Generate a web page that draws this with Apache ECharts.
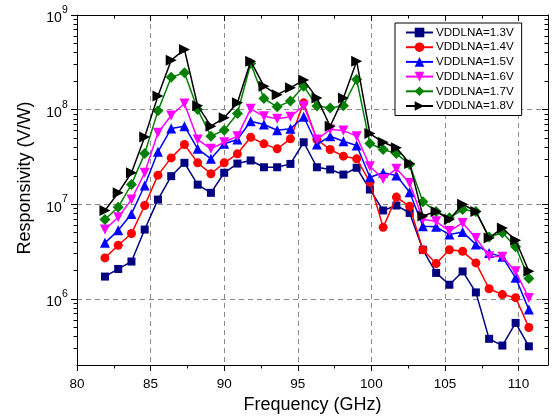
<!DOCTYPE html>
<html>
<head>
<meta charset="utf-8">
<script src="https://cdn.jsdelivr.net/npm/echarts@6/dist/echarts.min.js"></script>
<style>
html,body{margin:0;padding:0;background:#fff;}
#chart{width:555px;height:420px;}
</style>
</head>
<body>
<div id="chart"></div>
<script>
// ---- data ----
var freq = [81.9, 82.8, 83.7, 84.6, 85.5, 86.4, 87.3, 88.2, 89.1, 90.0, 90.9, 91.8, 92.7, 93.6, 94.5, 95.4, 96.3, 97.2, 98.1, 99.0, 99.9, 100.8, 101.7, 102.6, 103.5, 104.4, 105.3, 106.2, 107.1, 108.0, 108.9, 109.8, 110.7];
var v13 = [1.72e6, 2.07e6, 2.48e6, 5.4e6, 1.12e7, 1.98e7, 2.74e7, 1.61e7, 1.32e7, 2.15e7, 2.69e7, 2.9e7, 2.46e7, 2.46e7, 2.67e7, 4.52e7, 2.46e7, 2.33e7, 2.06e7, 2.43e7, 1.43e7, 8.6e6, 9.7e6, 8.1e6, 3.3e6, 1.88e6, 1.41e6, 1.95e6, 1.17e6, 3.78e5, 3.21e5, 5.57e5, 3.15e5];
var v14 = [2.71e6, 3.69e6, 4.9e6, 9.7e6, 2.03e7, 3.09e7, 4.28e7, 2.74e7, 2.1e7, 2.74e7, 3.41e7, 5.1e7, 4.35e7, 3.85e7, 4.91e7, 1.18e8, 4.83e7, 3.79e7, 3.22e7, 3.02e7, 1.71e7, 5.7e6, 1.19e7, 9.5e6, 3.3e6, 2.36e6, 3.3e6, 3.18e6, 2.4e6, 1.28e6, 1.11e6, 1.03e6, 4.98e5];
var v15 = [3.91e6, 5.3e6, 7.9e6, 1.58e7, 3.58e7, 6.3e7, 6.68e7, 3.85e7, 3.02e7, 4.35e7, 4.83e7, 7.54e7, 6.96e7, 6.06e7, 6.26e7, 8.4e7, 4.28e7, 5.24e7, 4.63e7, 4.17e7, 1.93e7, 2.15e7, 2.01e7, 1.34e7, 5.85e6, 5.77e6, 4.78e6, 5.1e6, 3.75e6, 3.06e6, 2.78e6, 1.67e6, 7.7e5];
var v16 = [5.4e6, 7.3e6, 1.12e7, 2.15e7, 5.69e7, 8.66e7, 1.16e8, 4.83e7, 3.85e7, 4.52e7, 5.24e7, 1.02e8, 8.5e7, 8.0e7, 8.4e7, 1.1e8, 4.83e7, 6.16e7, 6.0e7, 5.24e7, 2.52e7, 1.85e7, 2.37e7, 1.68e7, 6.9e6, 6.6e6, 5.2e6, 6.35e6, 4.41e6, 2.82e6, 2.78e6, 1.96e6, 1.02e6];
var v17 = [6.9e6, 9.3e6, 1.62e7, 3.43e7, 9.7e7, 2.2e8, 2.46e8, 1.0e8, 5.24e7, 6.06e7, 9.1e7, 3.07e8, 1.31e8, 1.07e8, 1.23e8, 1.77e8, 1.09e8, 1.04e8, 1.1e8, 2.08e8, 4.38e7, 3.79e7, 3.43e7, 2.63e7, 1.06e7, 8.4e6, 7.2e6, 8.8e6, 8.4e6, 4.5e6, 5.0e6, 3.55e6, 1.64e6];
var v18 = [8.6e6, 1.32e7, 2.15e7, 5.15e7, 1.39e8, 3.33e8, 4.32e8, 1.1e8, 6.68e7, 8.2e7, 1.18e8, 3.25e8, 1.77e8, 1.44e8, 1.7e8, 2.05e8, 1.33e8, 6.68e7, 1.33e8, 3.25e8, 5.59e7, 4.52e7, 3.95e7, 2.69e7, 7.5e6, 8.4e6, 6.9e6, 1.0e7, 8.4e6, 4.41e6, 5.6e6, 4.17e6, 1.96e6];
var seriesNames = ['VDDLNA=1.3V', 'VDDLNA=1.4V', 'VDDLNA=1.5V', 'VDDLNA=1.6V', 'VDDLNA=1.7V', 'VDDLNA=1.8V'];
var xMajorTicks = [80, 85, 90, 95, 100, 105, 110];
var xMinorTicks = [82.5, 87.5, 92.5, 97.5, 102.5, 107.5];
var yDecades = [1e6, 1e7, 1e8, 1e9];
var yMinorMantissas = [2, 3, 4, 5, 6, 7, 8, 9];
var xMin = 80, xMax = 112, yMinVal = 2e5, yMaxVal = 1e9;
var xTitle = 'Frequency (GHz)';
var yTitle = 'Responsivity (V/W)';

// ---- build ----
var FONT = '"Liberation Sans", Arial, sans-serif';
var lg = function (v) { return Math.log10(v); };
var yMajor = yDecades.map(lg);
var yMinor = [];
[1e5, 1e6, 1e7, 1e8].forEach(function (d) {
  yMinorMantissas.forEach(function (m) {
    var v = m * d;
    if (v > yMinVal && v < yMaxVal) yMinor.push(lg(v));
  });
});
var allValues = [v13, v14, v15, v16, v17, v18];
var styles = [
  {color: '#000080', symbol: 'rect', size: 8, rot: 0},
  {color: '#ff0000', symbol: 'circle', size: 9, rot: 0},
  {color: '#0000ff', symbol: 'triangle', size: 10, rot: 0},
  {color: '#ff00ff', symbol: 'triangle', size: 10, rot: 180},
  {color: '#008000', symbol: 'diamond', size: 11, rot: 0},
  {color: '#000000', symbol: 'triangle', size: 11, rot: -90}
];
var series = allValues.map(function (vals, i) {
  var st = styles[i];
  return {
    name: seriesNames[i],
    type: 'line',
    xAxisIndex: 0, yAxisIndex: 0,
    data: vals.map(function (v, k) { return [freq[k], lg(v)]; }),
    symbol: st.symbol,
    symbolSize: st.size,
    symbolRotate: st.rot,
    showAllSymbol: true,
    lineStyle: {color: st.color, width: 1.5},
    itemStyle: {color: st.color},
    emphasis: {disabled: true},
    animation: false,
    z: 3 + i
  };
});

var axisLineStyle = {color: '#000', width: 1};
var tickStyle = {color: '#000', width: 1};
var dash = {color: '#8a8a8a', width: 1, type: [5, 4]};

function xAx(pos, vals, len, inside, main, labels) {
  return {
    type: 'value', min: xMin, max: xMax, position: pos,
    axisLine: {show: main, onZero: false, lineStyle: axisLineStyle},
    axisTick: {show: true, customValues: vals, length: len, inside: inside, lineStyle: tickStyle},
    axisLabel: labels ? {show: true, customValues: xMajorTicks, fontSize: 13.5, margin: 12, color: '#000', fontFamily: FONT} : {show: false},
    splitLine: (labels ? {show: true, lineStyle: dash} : {show: false}),
    name: labels ? xTitle : '',
    nameLocation: 'middle', nameGap: 31,
    nameTextStyle: {fontSize: 18, color: '#000', fontFamily: FONT}
  };
}
function yAx(pos, vals, len, inside, main, labels) {
  return {
    type: 'value', min: lg(yMinVal), max: lg(yMaxVal), position: pos,
    minInterval: 1, maxInterval: 1,
    axisLine: {show: main, onZero: false, lineStyle: axisLineStyle},
    axisTick: {show: true, customValues: vals, length: len, inside: inside, lineStyle: tickStyle},
    axisLabel: labels ? {
      show: true, customValues: yMajor, margin: 9, color: '#000', fontFamily: FONT,
      formatter: function (v) { return '{b|10}{s|' + Math.round(v) + '}{h| }'; },
      rich: {
        b: {fontSize: 14, lineHeight: 14, verticalAlign: 'bottom', fontFamily: FONT, color: '#000'},
        s: {fontSize: 10.5, lineHeight: 10, verticalAlign: 'top', fontFamily: FONT, color: '#000'},
        h: {fontSize: 1, lineHeight: 21}
      }
    } : {show: false},
    splitLine: (labels ? {show: true, lineStyle: dash} : {show: false})
  };
}

var chart = echarts.init(document.getElementById('chart'), null, {renderer: 'canvas'});
chart.setOption({
  backgroundColor: '#fff',
  animation: false,
  textStyle: {fontFamily: FONT},
  grid: {left: 77, right: 7, top: 15, bottom: 55, containLabel: false},
  xAxis: [
    xAx('bottom', xMajorTicks, 6, false, true, true),
    xAx('bottom', xMinorTicks, 3.5, false, false, false),
    xAx('top', xMajorTicks, 6, true, true, false),
    xAx('top', xMinorTicks, 3.5, true, false, false)
  ],
  yAxis: [
    yAx('left', yMajor, 6, false, true, true),
    yAx('left', yMinor, 3.5, false, false, false),
    yAx('right', yMajor, 6, true, true, false),
    yAx('right', yMinor, 3.5, true, false, false)
  ],
  legend: {
    orient: 'vertical', left: 395, top: 23,
    data: seriesNames,
    itemWidth: 27, itemHeight: 12, itemGap: 2.7,
    padding: [3.5, 8, 3.5, 10],
    borderColor: '#000', borderWidth: 1,
    backgroundColor: '#fff',
    textStyle: {fontSize: 11.6, color: '#000', fontFamily: FONT, lineHeight: 10, padding: [0, 0, 0, -2]},
    selectedMode: false
  },
  graphic: [{
    type: 'text', x: 25, y: 178, rotation: Math.PI / 2,
    style: {text: yTitle, fill: '#000', font: '18px ' + FONT, align: 'center', verticalAlign: 'middle', textAlign: 'center', textVerticalAlign: 'middle'}
  }],
  series: series
});
</script>
</body>
</html>
